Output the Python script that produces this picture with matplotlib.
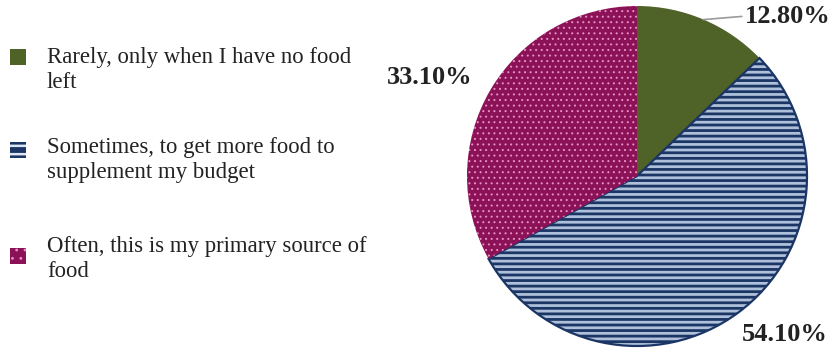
import matplotlib.pyplot as plt
from matplotlib.patches import Rectangle

categories = [
    "Rarely, only when I have no food\nleft",
    "Sometimes, to get more food to\nsupplement my budget",
    "Often, this is my primary source of\nfood",
]
shares = [12.8, 54.1, 33.1]
value_labels = ["12.80%", "54.10%", "33.10%"]

face_colors = ["#4F6228", "#AFC1DA", "#8C1257"]
edge_colors = ["#4F6228", "#1B3565", "#E890C6"]
hatches = [None, "---", "..."]
hatch_widths = [1.0, 2.0, 0.7]


def set_hatch_lw(patch, lw):
    if hasattr(patch, "set_hatch_linewidth"):
        patch.set_hatch_linewidth(lw)
    else:
        patch._hatch_linewidth = lw


plt.rcParams["font.family"] = ["Liberation Serif", "DejaVu Serif"]

fig = plt.figure(figsize=(8.38, 3.53), dpi=100)

# pie axes: centre ~ (637, 177) px, radius ~ 170 px
ax = fig.add_axes([467 / 838, 7 / 353, 340 / 838, 340 / 353])
wedges, _ = ax.pie(shares, startangle=90, counterclock=False,
                   colors=face_colors)
for w, ec, h, hw in zip(wedges, edge_colors, hatches, hatch_widths):
    w.set_edgecolor(ec)
    if h:
        w.set_hatch(h)
        set_hatch_lw(w, hw)
wedges[0].set_linewidth(0)
wedges[1].set_linewidth(1.6)
wedges[2].set_linewidth(0)
ax.set_xlim(-1, 1)
ax.set_ylim(-1, 1)
ax.set_aspect("equal")
ax.axis("off")

label_font = dict(fontsize=19, fontweight="bold", color="#222222",
                  ha="center", va="center")
# 12.80% with a leader line from the slice edge
ax.annotate(value_labels[0], xy=(0.39, 0.92), xytext=(0.885, 0.94),
            arrowprops=dict(arrowstyle="-", color="#9a9a9a", lw=1.2,
                            shrinkA=0, shrinkB=0,
                            relpos=(0, 0.5)),
            annotation_clip=False, **label_font)
ax.text(0.87, -0.93, value_labels[1], clip_on=False, **label_font)
ax.text(-1.22, 0.58, value_labels[2], clip_on=False, **label_font)

# legend on the left
legend_face = ["#4F6228", "#1B3565", "#8C1257"]
legend_hatch_col = ["#4F6228", "#DDE6F2", "#E890C6"]
legend_hatch = [None, "--", ".."]
legend_y = [57, 150, 256]
text_y = [70, 160, 259]
for cat, fc, ec, h, my, ty in zip(categories, legend_face, legend_hatch_col,
                                  legend_hatch, legend_y, text_y):
    sq = Rectangle((10 / 838, 1 - (my + 8) / 353), 16 / 838, 16 / 353,
                   transform=fig.transFigure, facecolor=fc,
                   edgecolor=ec, lw=0, hatch=h)
    if h:
        set_hatch_lw(sq, 1.8 if h == "--" else 0.8)
    fig.add_artist(sq)
    fig.text(47 / 838, 1 - ty / 353, cat, fontsize=16.4, color="#222222",
             ha="left", va="center", linespacing=1.2)

fig.savefig("out.png", dpi=100, facecolor="white")
